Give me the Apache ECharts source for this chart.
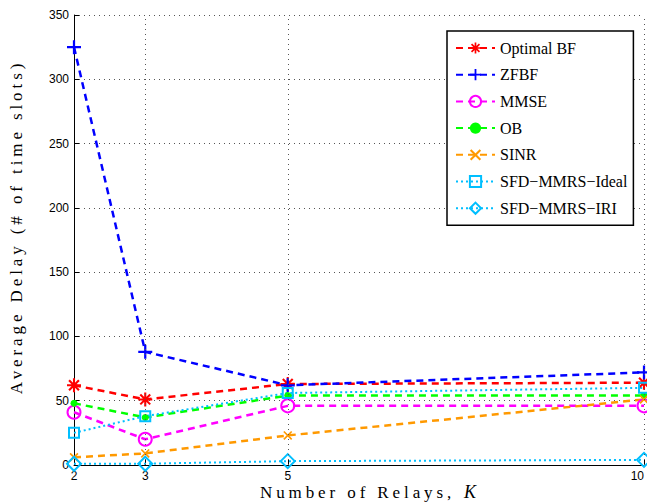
<!DOCTYPE html>
<html><head><meta charset="utf-8">
<script src="https://cdn.jsdelivr.net/npm/echarts@6/dist/echarts.min.js"></script>
<style>html,body{margin:0;padding:0;background:#fff}#c{width:647px;height:504px}</style>
</head><body><div id="c"></div>
<script>
// ---- data ----
const relays = [2, 3, 5, 10];
const xTicks = [2, 3, 5, 10];
const seriesNames = ['Optimal BF', 'ZFBF', 'MMSE', 'OB', 'SINR', 'SFD\u2212MMRS\u2212Ideal', 'SFD\u2212MMRS\u2212IRI'];
const optimalBF = [62, 51, 63, 64];
const zfbf = [325, 88, 62, 72];
const mmse = [41, 20, 46, 46];
const ob = [48, 37, 54, 54];
const sinr = [6, 9, 23, 51];
const sfdIdeal = [25, 38, 56, 60];
const sfdIRI = [1, 1, 3, 4];
const yTitle = 'Average Delay (# of time slots)';
const xTitle = 'Number of Relays,';
const xTitleVar = 'K';

// ---- symbols ----
const SYM_STAR = 'path://M0,8.5 H20 V11.5 H0 Z M8.5,0 H11.5 V20 H8.5 Z M3.99,1.87 L18.13,16.01 L16.01,18.13 L1.87,3.99 Z M16.01,1.87 L18.13,3.99 L3.99,18.13 L1.87,16.01 Z';
const SYM_PLUS = 'path://M8.4,0 H11.6 V8.4 H20 V11.6 H11.6 V20 H8.4 V11.6 H0 V8.4 H8.4 Z';
const SYM_X = 'path://M2.6,0 L20,17.4 L17.4,20 L0,2.6 Z M17.4,0 L20,2.6 L2.6,20 L0,17.4 Z';

const DASH = [7, 5];
const DOT = [2, 3];

function pts(arr) { return relays.map((k, i) => [k, arr[i]]); }
function mk(name, arr, color, lineType, lineWidth, symbol, size, hollow) {
  return {
    type: 'line', name: name, data: pts(arr), symbol: symbol, symbolSize: size,
    lineStyle: { color: color, width: lineWidth, type: lineType },
    itemStyle: hollow ? { color: 'rgba(255,255,255,0)', borderColor: color, borderWidth: 2 }
                      : { color: color, borderWidth: 0 },
    emphasis: { disabled: true }, silent: true, animation: false
  };
}
const RED = '#ff0000', BLUE = '#0000ff', MAG = '#ff00ff', GRN = '#00ff00', ORG = '#ff9900', CYA = '#00bfff';

const series = [
  mk(seriesNames[0], optimalBF, RED, DASH, 2.5, SYM_STAR, 14, false),
  mk(seriesNames[1], zfbf, BLUE, DASH, 2.5, SYM_PLUS, 14, false),
  mk(seriesNames[2], mmse, MAG, DASH, 2.5, 'circle', 13, true),
  mk(seriesNames[3], ob, GRN, DASH, 2.5, 'circle', 7, false),
  mk(seriesNames[4], sinr, ORG, DASH, 2.5, SYM_X, 9, false),
  mk(seriesNames[5], sfdIdeal, CYA, DOT, 2, 'rect', 10, true),
  mk(seriesNames[6], sfdIRI, CYA, DOT, 2, 'diamond', 14, true),
  {
    type: 'line', name: '_grid', data: [], silent: true, animation: false,
    markLine: {
      silent: true, symbol: ['none', 'none'], animation: false,
      label: { show: false },
      lineStyle: { color: '#555', type: [1, 4], width: 1 },
      emphasis: { disabled: true },
      data: xTicks.slice(1).map(v => ({ xAxis: v }))
    }
  }
];

const chart = echarts.init(document.getElementById('c'), null, { renderer: 'svg' });
chart.setOption({
  animation: false,
  backgroundColor: '#fff',
  grid: { left: 74, right: 3, top: 15, bottom: 39, containLabel: false, outerBoundsMode: 'none' },
  xAxis: {
    type: 'value', min: 2, max: 10,
    axisLine: { show: true, lineStyle: { color: '#000', width: 1 } },
    axisTick: { show: true, inside: true, length: 5, customValues: xTicks, lineStyle: { color: '#000' } },
    axisLabel: { customValues: xTicks, color: '#000', fontFamily: 'Liberation Sans', fontSize: 12, margin: 5, alignMaxLabel: 'right' },
    splitLine: { show: false }
  },
  yAxis: {
    type: 'value', min: 0, max: 350, interval: 50,
    axisLine: { show: true, lineStyle: { color: '#000', width: 1 } },
    axisTick: { show: true, inside: true, length: 5, lineStyle: { color: '#000' } },
    axisLabel: { color: '#000', fontFamily: 'Liberation Sans', fontSize: 12, margin: 5 },
    splitLine: { show: true, lineStyle: { color: '#555', type: [1, 4], width: 1 } }
  },
  legend: {
    data: seriesNames,
    orient: 'vertical', left: 447, top: 31,
    padding: [9, 6, 9, 8],
    itemWidth: 39, itemHeight: 14, itemGap: 10.7,
    borderColor: '#000', borderWidth: 1.5, backgroundColor: '#fff',
    selectedMode: false,
    textStyle: { fontFamily: 'Liberation Serif', fontSize: 16, color: '#000' }
  },
  graphic: [
    { type: 'text', silent: true, position: [16, 227], rotation: Math.PI / 2,
      style: { text: yTitle, fontFamily: 'Liberation Serif', fontSize: 17, fill: '#000', align: 'center', verticalAlign: 'middle' } },
    { type: 'text', silent: true, position: [260, 492],
      style: { text: xTitle, fontFamily: 'Liberation Serif', fontSize: 17, fill: '#000', align: 'left', verticalAlign: 'middle' } },
    { type: 'text', silent: true, position: [464, 492],
      style: { text: xTitleVar, fontFamily: 'Liberation Serif', fontStyle: 'italic', fontSize: 18, fill: '#000', align: 'left', verticalAlign: 'middle' } }
  ],
  series: series
});

function spaceTitles() {
  document.querySelectorAll('#c text').forEach(t => {
    const s = t.textContent;
    if (s === yTitle || s === xTitle) t.style.letterSpacing = '3.9px';
  });
}
spaceTitles();
chart.on('finished', spaceTitles);
setTimeout(spaceTitles, 50);
</script>
</body></html>
